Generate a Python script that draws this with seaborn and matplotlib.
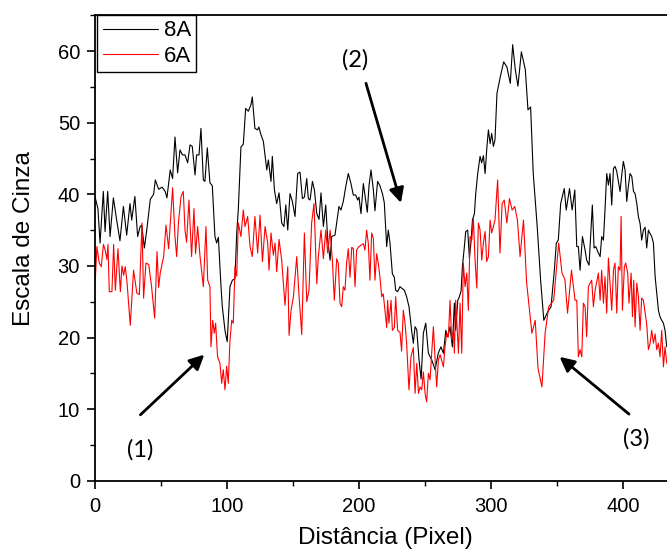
import numpy as np
import pandas as pd
import matplotlib
matplotlib.use("Agg")
import matplotlib.pyplot as plt
from matplotlib.lines import Line2D
from matplotlib.ticker import MultipleLocator
import seaborn as sns

# ---- data ----
x_8a = [0, 2, 3.6, 6.1, 7.4, 9.4, 11.2, 13.7, 16.2, 18.7, 21.3, 23.8, 26.3, 27.6, 30, 32.1, 34, 35.2, 37.2, 39,
        41.7, 44.2, 45.5, 48, 50.6, 53, 54.3, 56.8, 58.6,
        60.4, 62.4, 64.2, 66, 68, 70, 71.8, 73.5, 75.6, 76.8, 78.6, 80.1, 81.9, 83.1, 84.9, 86.9, 88.7, 90.7, 92, 93.3,
        95.3, 96.3, 98.3, 100, 102.1, 103.9, 105.9, 107.2, 108.4, 110.4, 112.2, 114, 116, 118, 119, 121,
        123, 124, 125.6, 127.4, 130, 131.2, 133.2, 134.2, 135.8, 137.5, 139.3, 141.3, 143, 144.4, 145.9, 147.6, 149.4,
        151.4, 153.4, 155.2, 157, 158.5, 160.3, 161.5, 162.8, 164.6, 166.1, 167.9, 169.6, 171.1, 172.9, 174.7, 176.2,
        178, 179.2,
        181.7, 183.7, 184.7, 186.2, 188, 189.8, 191.8, 193.8, 195.6, 197.4, 198.9, 199.9, 201.4, 203.2, 204.4, 206.2,
        207.5, 209, 210.8, 212, 214, 215.8, 217.8, 219.1, 220.1, 220.9, 222.1, 223.4, 225.2, 226.7, 227.7, 229.2, 231,
        232.2, 234.3, 236, 237.8, 239.8, 241.1,
        242.4, 243.7, 245.4, 247, 248.7, 250.5, 252.5, 255, 257.6, 260, 262, 263.9, 265.7, 267.2, 268.9, 270.7, 272.2,
        273.2, 274.8, 275.8, 277.3, 278.3, 279.8, 280.8, 282.3, 283.6, 284.9, 285.9, 287.4, 288.4, 289.9, 291.7, 292.9,
        294.2, 295.5, 296.7, 298, 299.3, 300.5, 301.8,
        303, 304.5, 307, 309.6, 312, 314.6, 316.4, 318.4, 320.4, 323, 326, 328, 330, 332, 335, 337.6, 340, 343, 345.5,
        348, 349.5, 351, 352.8, 355.5, 357, 359.5, 361.5,
        363.5, 365, 366.2, 367.5, 369.3, 371.3, 372.5, 374.3, 375.8, 376.8, 378.1, 379.4, 380.9, 382.7, 383.9, 385.2,
        386.4, 387.7, 389, 390.2, 391.5, 392.8, 394, 395.3, 397.8, 399.1, 400.3, 401.6, 402.9, 404.1, 405.4, 406.7, 408,
        409.2, 410.5, 411.7, 413, 414.2, 415.5, 416.8, 418, 419.3, 420.6, 421.8, 423.1, 424.4, 425.6, 426.9, 428.1,
        429.4, 430.7, 431.9, 433.2]
y_8a = [39.5, 38, 33.2, 40.4, 34.8, 40.4, 34.1, 39.5, 36.4, 33.5, 38.3, 34.3, 38.7, 36.4, 39.7, 34.1, 35.5, 35.7, 32.5, 35,
        39.3, 40, 42, 40.7, 41, 40.4, 39.5, 43.4, 42.2,
        48, 43, 46.2, 45.5, 45.5, 44.4, 46.9, 46.7, 42.7, 45.5, 45.5, 49.2, 42, 41.8, 46.5, 41.6, 41.2, 34.1, 33.2, 34,
        27.1, 24.3, 21, 19.4, 27.1, 28, 28.2, 34.6, 37.8, 46.6, 47, 52, 51.6, 52.5, 53.6, 49.2,
        49, 49.4, 48.3, 47.4, 43.4, 44.8, 41.8, 45.3, 40.6, 38.7, 40.2, 36, 35.5, 38.5, 35, 40.1, 39,
        36.9, 42.9, 43.1, 39.4, 39.6, 42.2, 39.4, 39.2, 41.8, 40.6, 37.3, 36.5, 40.2, 35.5, 38.5, 33.6,
        30.8, 34.1,
        34.3, 36.9, 38.3, 37.8, 39, 41, 42.9, 41.5, 39.9, 39.9, 39.2, 39.6, 37.3, 41.5, 39.9, 37.5,
        41.2, 43.4, 40.6, 37.7, 41.8, 41.2, 40, 38.8, 35.5, 32.7, 35, 33.2, 28.9, 28.4, 26.6, 26.4, 27.1,
        26.9, 26.6, 25.7, 24.3, 21, 19.2,
        21.5, 21.1, 16.9, 14.2, 20.6, 22, 17.8, 16.9, 15.5, 17.8, 18.7, 17.8, 21, 20.1, 21.5, 18.7, 24.8,
        21, 25.2, 25.6, 26.5, 29.9, 32.7, 34.8, 35, 31.1, 33.5, 36.4, 37.3, 40.1, 42.9, 45.3, 44.4,
        45.4, 42.9, 46.2, 49, 47.1, 48.5, 46.7,
        47.6, 54.1, 56.4, 58.5, 57.8, 55.5, 60.9, 57.4, 55.1, 59.9, 57.4, 51.8, 52.2, 42.9, 35.5, 28, 22.4, 23.6, 24.3,
        29.4, 33.2, 33.6, 38.7, 40.8, 37.8, 40.8, 37.8,
        40.6, 32.7, 32.7, 29.4, 34.1, 32.2, 30.8, 30.1, 35, 38.5, 32.5, 32.7, 32, 31.3, 34.1, 33.6,
        37.8, 42.9, 41.3, 42.9, 38.5, 43.6, 43.9, 43.2, 40.4, 42.7, 44.6, 43.4, 39, 41.1, 42.9, 42.5, 40.4,
        40.1, 38.7, 36.9, 35.9, 33.6, 35, 35.4, 32.5, 35, 34.5, 34.1, 33.2, 28.5, 26.2, 23.8, 22.9,
        22.4, 22, 21, 18.7]

x_6a = [0, 1.2, 3, 4.5, 6.2, 7.5, 8.8, 9.6, 10.6, 12.6, 13.9, 15.2, 17.2, 19, 20.2, 21.5, 22.7, 24, 26.5, 29, 31.5,
        33.4, 35.4, 36.6, 38.4, 40.5, 42.6, 45, 46.8, 48, 49.3, 51.8, 53.6, 55.6, 58.6,
        60.4, 61.7, 63, 65, 66.7, 68, 69.2, 71, 73, 74.8, 76, 77.6, 79.4, 81.9, 83.9, 85.2, 86.9, 87.7, 89, 90.2, 91.2,
        92.7, 94.5, 95.8, 97, 98.3, 99.6, 100.8, 102.1, 103.4, 104.6, 105.9, 107.2, 108.4, 110.4, 112.2, 113.5, 115.5,
        117.3, 119, 121,
        123.1, 124.9, 126.7, 128.7, 130.7, 131.7, 133.2, 135, 136.3, 137.5, 139.3, 141.3, 143.8, 145.9, 146.9, 148.4,
        150.2, 152.7, 154.5, 156.5, 158.5, 160.3, 162, 164, 165.8, 167.9, 169.1, 171.1, 172.9, 174.7, 176.2, 178, 179.7,
        181.2,
        183, 184.2, 185.5, 186.8, 188, 189.3, 190.5, 191.8, 193.1, 194.4, 195.6, 196.9, 198.1, 199.4, 200.7, 203.2,
        204.4, 205.7, 207, 208.2, 209.5, 210.8, 212, 213.3, 214.5, 215.8, 217.1, 218.3, 219.6, 220.9, 221.6, 222.6,
        224.2, 225.2, 226.7, 227.7, 229.2, 231, 232.2, 233.5, 234.8, 236, 237.8, 239.3, 241.1,
        242.4, 243.7, 245, 246.2, 247.5, 248.7, 250, 251.2, 252.5, 253.8, 255, 256.3, 257.6, 258.8, 260.1, 261.4, 263.9,
        265.1, 266.4, 267.7, 268.9, 270.2, 271.5, 272.2, 273.2, 275.3, 276.5, 277.8, 279, 280.3, 281.6, 282.8, 284.1,
        285.4, 286.6, 287.9, 289.2, 290.4, 291.7, 293, 294.2, 295.5, 296.7, 298, 299.3, 300.5, 301.8,
        303, 305, 306.8, 308.4, 310, 312, 314, 316, 318, 320, 322, 324.6, 327, 331, 333.5, 335.6, 338.6, 341, 343.7,
        347.5, 351.3, 353.8, 356, 358, 361,
        363.7, 365, 366.2, 367.5, 368.8, 370, 371.3, 372.5, 373.8, 375.1, 376.3, 377.6, 378.9, 381.4, 382.7, 383.9,
        385.2, 386.4, 387.7, 389, 390.2, 391.5, 392.8, 394, 395.3, 396.5, 397.8, 398.6, 399.6, 401.1, 402.1, 403.6,
        404.6, 406.2, 407.2, 408.2, 409.2, 410.5, 411.7, 413, 414.2, 415.5, 418, 419.3, 420.6, 421.8, 423.1, 424.4,
        425.6, 426.9, 428.1, 429.4, 430.7, 431.9, 433.2]
y_6a = [28, 32.7, 30.4, 29.9, 33, 32.2, 30.9, 33, 26.4, 26.4, 33, 26.6, 32.4, 26.4, 30, 28.7, 29.9, 27.8, 21.7, 29.4, 26.2,
        26, 36, 25.5, 30.4, 30.2, 27.2, 22.7, 32, 27, 29.1, 31.3, 35.7, 32.4, 40.9,
        34.1, 31.3, 36, 39.7, 40.4, 35, 33.3, 39.2, 31.3, 38, 31.7, 35.5, 31.3, 27.1, 35.5, 28, 27.1, 18.7, 22.4, 20.6, 22,
        17.3, 16.4, 13.6, 15.5, 12.7, 16, 13.6, 19.6, 22.4, 22, 29.9, 28.6, 36, 34.1, 37.8, 35.5, 36.9,
        32.7, 31.3, 36.9,
        31.8, 37.1, 30.6, 35.5, 33.2, 29.4, 34.6, 31.5, 33.2, 29.2, 33.7, 30.8, 24.5, 29.9, 20.3, 23.8,
        25.7, 31.3, 25.7, 20.4, 34.6, 25, 26.6, 36, 38.7, 27.5, 31.3, 35, 31, 35, 31.8, 35, 30.8,
        25.2,
        31, 30.4, 24.8, 24.3, 27.1, 26.6, 30.4, 32.4, 28.4, 32.6, 32.4, 27.1, 32.2, 32.6, 32.8, 33.1,
        32.2, 35, 33.1, 28, 34.6, 33.8, 28, 31.7, 30.4, 28.4, 25.7, 26.1, 23.8, 21.4, 25.2, 22,
        25.2, 21, 21.4, 25.7, 21, 20.7, 18.1, 23.8, 22, 19.2, 12.7, 17.3, 18.6,
        12.2, 16.4, 12.2, 13.1, 12.7, 15.2, 12.2, 11, 15, 14.1, 17.8, 21.5, 16.9, 13.1, 16.9, 17.6, 15.9,
        18.7, 20.6, 20.1, 25.2, 19.7, 21, 17.8, 25.2, 17.8, 24.8, 17.8, 30.4, 27.1, 29, 23.8, 34.1,
        33.6, 36.6, 30.8, 26.9, 36, 35, 30.8, 33.2, 34.8, 30.6, 31.3, 36.4, 34.6, 35.5,
        36.4, 42, 31.8, 38.7, 39.2, 36, 39.4, 37.8, 38.3, 36.4, 31.3, 36.4, 27.6, 20.6, 22.4, 15.7, 13.1, 20.6, 24.3,
        25.2, 33.2, 29, 28.1, 23.4, 29.4,
        25.2, 25.2, 17.3, 18.3, 17.3, 24.8, 24.3, 20.1, 27.1, 27.6, 28, 24.3, 26.6, 29, 25.2, 29.4,
        24.8, 28.5, 23.4, 31.1, 27.6, 23.8, 29.4, 30.4, 23.4, 29.9, 29.4, 36.9, 23.8, 29.9, 30.4, 29,
        24.8, 29, 22.9, 28, 21.5, 27.6, 25.7, 21, 25.5, 25.2, 21.9, 18.3, 19.2, 21, 19.2, 20.5,
        18.3, 19.2, 17.3, 21, 15.9, 18.7, 16.4]

series_names = ["8A", "6A"]
series_colors = ["black", "red"]

x_ticks = [0, 100, 200, 300, 400]
y_ticks = [0, 10, 20, 30, 40, 50, 60]

annot_labels = ["(1)", "(2)", "(3)"]
annot_text_pos = [(34.2, 4.3), (197.1, 58.8), (410.1, 5.9)]
annot_tail = [(34.2, 9.2), (205.2, 55.5), (404.6, 9.3)]
annot_head = [(82.6, 17.6), (231.7, 38.8), (352.0, 17.3)]

# ---- build frame ----
df = pd.concat([
    pd.DataFrame({"Distância (Pixel)": x_8a, "Escala de Cinza": y_8a, "serie": "8A"}),
    pd.DataFrame({"Distância (Pixel)": x_6a, "Escala de Cinza": y_6a, "serie": "6A"}),
], ignore_index=True)

sns.set_style("ticks")
plt.rcParams["font.family"] = ["Liberation Sans", "DejaVu Sans"]
plt.rcParams["text.color"] = "black"
plt.rcParams["axes.labelcolor"] = "black"
plt.rcParams["xtick.color"] = "black"
plt.rcParams["ytick.color"] = "black"

fig = plt.figure(figsize=(6.67, 5.51), dpi=100)
ax = fig.add_axes([95.3 / 667, 1 - 480.7 / 551, (667 - 95.3) / 667, (480.7 - 14.8) / 551])

palette = dict(zip(series_names, series_colors))
sns.lineplot(data=df, x="Distância (Pixel)", y="Escala de Cinza", hue="serie",
             palette=palette, estimator=None, sort=False, lw=0.8, ax=ax, legend=False)

ax.set_xlim(0, 433.4)
ax.set_ylim(0, 65.07)
ax.set_xticks(x_ticks)
ax.set_yticks(y_ticks)
ax.xaxis.set_minor_locator(MultipleLocator(50))
ax.yaxis.set_minor_locator(MultipleLocator(5))
ax.tick_params(axis="both", which="major", direction="out", length=6, width=1.2,
               labelsize=14.5, color="black", labelcolor="black")
ax.tick_params(axis="x", which="major", pad=6)
ax.tick_params(axis="y", which="major", pad=5)
ax.tick_params(axis="both", which="minor", direction="out", length=3.5, width=1.0, color="black")

for side in ["left", "bottom", "top"]:
    ax.spines[side].set_visible(True)
    ax.spines[side].set_color("black")
    ax.spines[side].set_linewidth(1.3)
ax.spines["right"].set_visible(False)

ax.set_xlabel("Distância (Pixel)", fontsize=17.5, color="black")
ax.set_ylabel("Escala de Cinza", fontsize=17.5, color="black")
ax.xaxis.set_label_coords(0.507, -0.099)
ax.yaxis.set_label_coords(-0.105, 0.519)

handles = [Line2D([0], [0], color=c, lw=0.8) for c in series_colors]
leg = ax.legend(handles, series_names, loc="upper left", bbox_to_anchor=(0.003, 1.0),
                borderaxespad=0, fontsize=16, frameon=True, fancybox=False,
                handlelength=2.5, handletextpad=0.25, labelspacing=0.2, borderpad=0.25)
leg.get_frame().set_edgecolor("black")
leg.get_frame().set_linewidth(1.0)
leg.get_frame().set_alpha(1)
for t in leg.get_texts():
    t.set_color("black")

for lab, tp, tail, head in zip(annot_labels, annot_text_pos, annot_tail, annot_head):
    ax.annotate("", xy=head, xytext=tail,
                arrowprops=dict(arrowstyle="-|>", color="black", lw=2,
                                mutation_scale=22, shrinkA=0, shrinkB=0))
    ax.text(tp[0], tp[1], lab, fontsize=17, ha="center", va="center",
            family=["Lato", "DejaVu Sans"], color="black")

fig.savefig("out.png", dpi=100)
